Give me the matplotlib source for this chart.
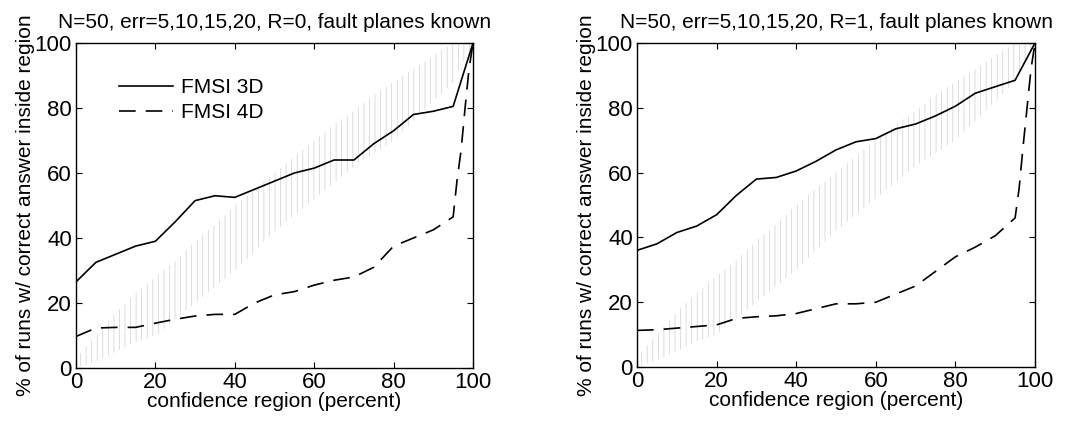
import matplotlib
matplotlib.use("Agg")
import matplotlib.pyplot as plt

plt.rcParams["font.family"] = ["Liberation Sans", "DejaVu Sans"]

TITLES = [
    "N=50, err=5,10,15,20, R=0, fault planes known",
    "N=50, err=5,10,15,20, R=1, fault planes known",
]
XLABEL = "confidence region (percent)"
YLABEL = "% of runs w/ correct answer inside region"

x3d = [0, 5, 10, 15, 20, 25, 30, 35, 40, 45, 50, 55, 60, 65, 70, 75, 80, 85, 90, 95, 100]
left_3d = [26.5, 32.5, 35, 37.5, 39, 45, 51.5, 53, 52.5, 55, 57.5, 60, 61.5, 64, 64,
           69, 73, 78, 79, 80.5, 100]
right_3d = [36, 38, 41.5, 43.5, 47, 53, 58, 58.5, 60.5, 63.5, 67, 69.5, 70.5, 73.5, 75,
            77.5, 80.5, 84.5, 86.5, 88.5, 100]

x4d = [0, 5, 10, 15, 20, 25, 30, 35, 40, 45, 50, 55, 60, 65, 70, 75, 80, 85, 90, 95,
       96, 97, 98, 99, 100]
left_4d = [9.7, 12.3, 12.5, 12.5, 13.8, 15, 16, 16.5, 16.5, 20, 22.5, 23.5, 25.5, 27, 28,
           31, 37.5, 40, 42.5, 46.5, 58, 67, 80, 92, 100]
right_4d = [11.3, 11.5, 12, 12.5, 13, 15, 15.5, 15.8, 16.5, 18, 19.5, 19.5, 20, 22.5, 25,
            29.5, 34, 37, 40.5, 46, 55, 68, 80, 92, 100]

# envelope of the random-answer band (dotted shading)
band_x = [0, 5, 10, 15, 20, 25, 30, 35, 40, 45, 50, 55, 60, 65, 70, 75, 80, 85, 90, 95, 100]
band_lo = [0, 2, 5, 8, 10, 15, 20, 25, 30, 36, 42, 47, 52, 57, 62, 66, 70, 76, 82, 88, 100]
band_hi = [3, 10, 17, 23, 28, 33, 39, 44, 50, 55, 60, 65, 70, 75, 79, 84, 88, 92, 96, 100, 100]

fig = plt.figure(figsize=(10.79, 4.29), dpi=100)
axes = [fig.add_axes([76 / 1079, 1 - 368 / 429, 397 / 1079, 325 / 429]),
        fig.add_axes([637 / 1079, 1 - 367 / 429, 398 / 1079, 324 / 429])]

panels = [(left_3d, left_4d), (right_3d, right_4d)]
plt.rcParams["hatch.linewidth"] = 0.5

for ax, title, (y3, y4) in zip(axes, TITLES, panels):
    ax.fill_between(band_x, band_lo, band_hi, facecolor="none", edgecolor="#cfcfcf",
                    hatch="|||", linewidth=0)
    ax.plot(x3d, y3, color="black", lw=1.2, label="FMSI 3D")
    ax.plot(x4d, y4, color="black", lw=1.2, dashes=(10, 6), label="FMSI 4D")
    ax.set_xlim(0, 100)
    ax.set_ylim(0, 100)
    ax.set_xticks(range(0, 101, 20))
    ax.set_yticks(range(0, 101, 20))
    ax.tick_params(direction="in", top=True, right=True, length=4, labelsize=16, pad=3)
    ax.set_title(title, fontsize=15, pad=11)
    ax.set_xlabel(XLABEL, fontsize=15, labelpad=-1)
    ax.set_ylabel(YLABEL, fontsize=15, labelpad=0)
    for s in ax.spines.values():
        s.set_linewidth(1.0)

axes[0].legend(loc="upper left", bbox_to_anchor=(0.06, 0.95), frameon=False,
               fontsize=15, handlelength=2.6, handletextpad=0.4, labelspacing=0.3)

fig.savefig("out.png", dpi=100)
